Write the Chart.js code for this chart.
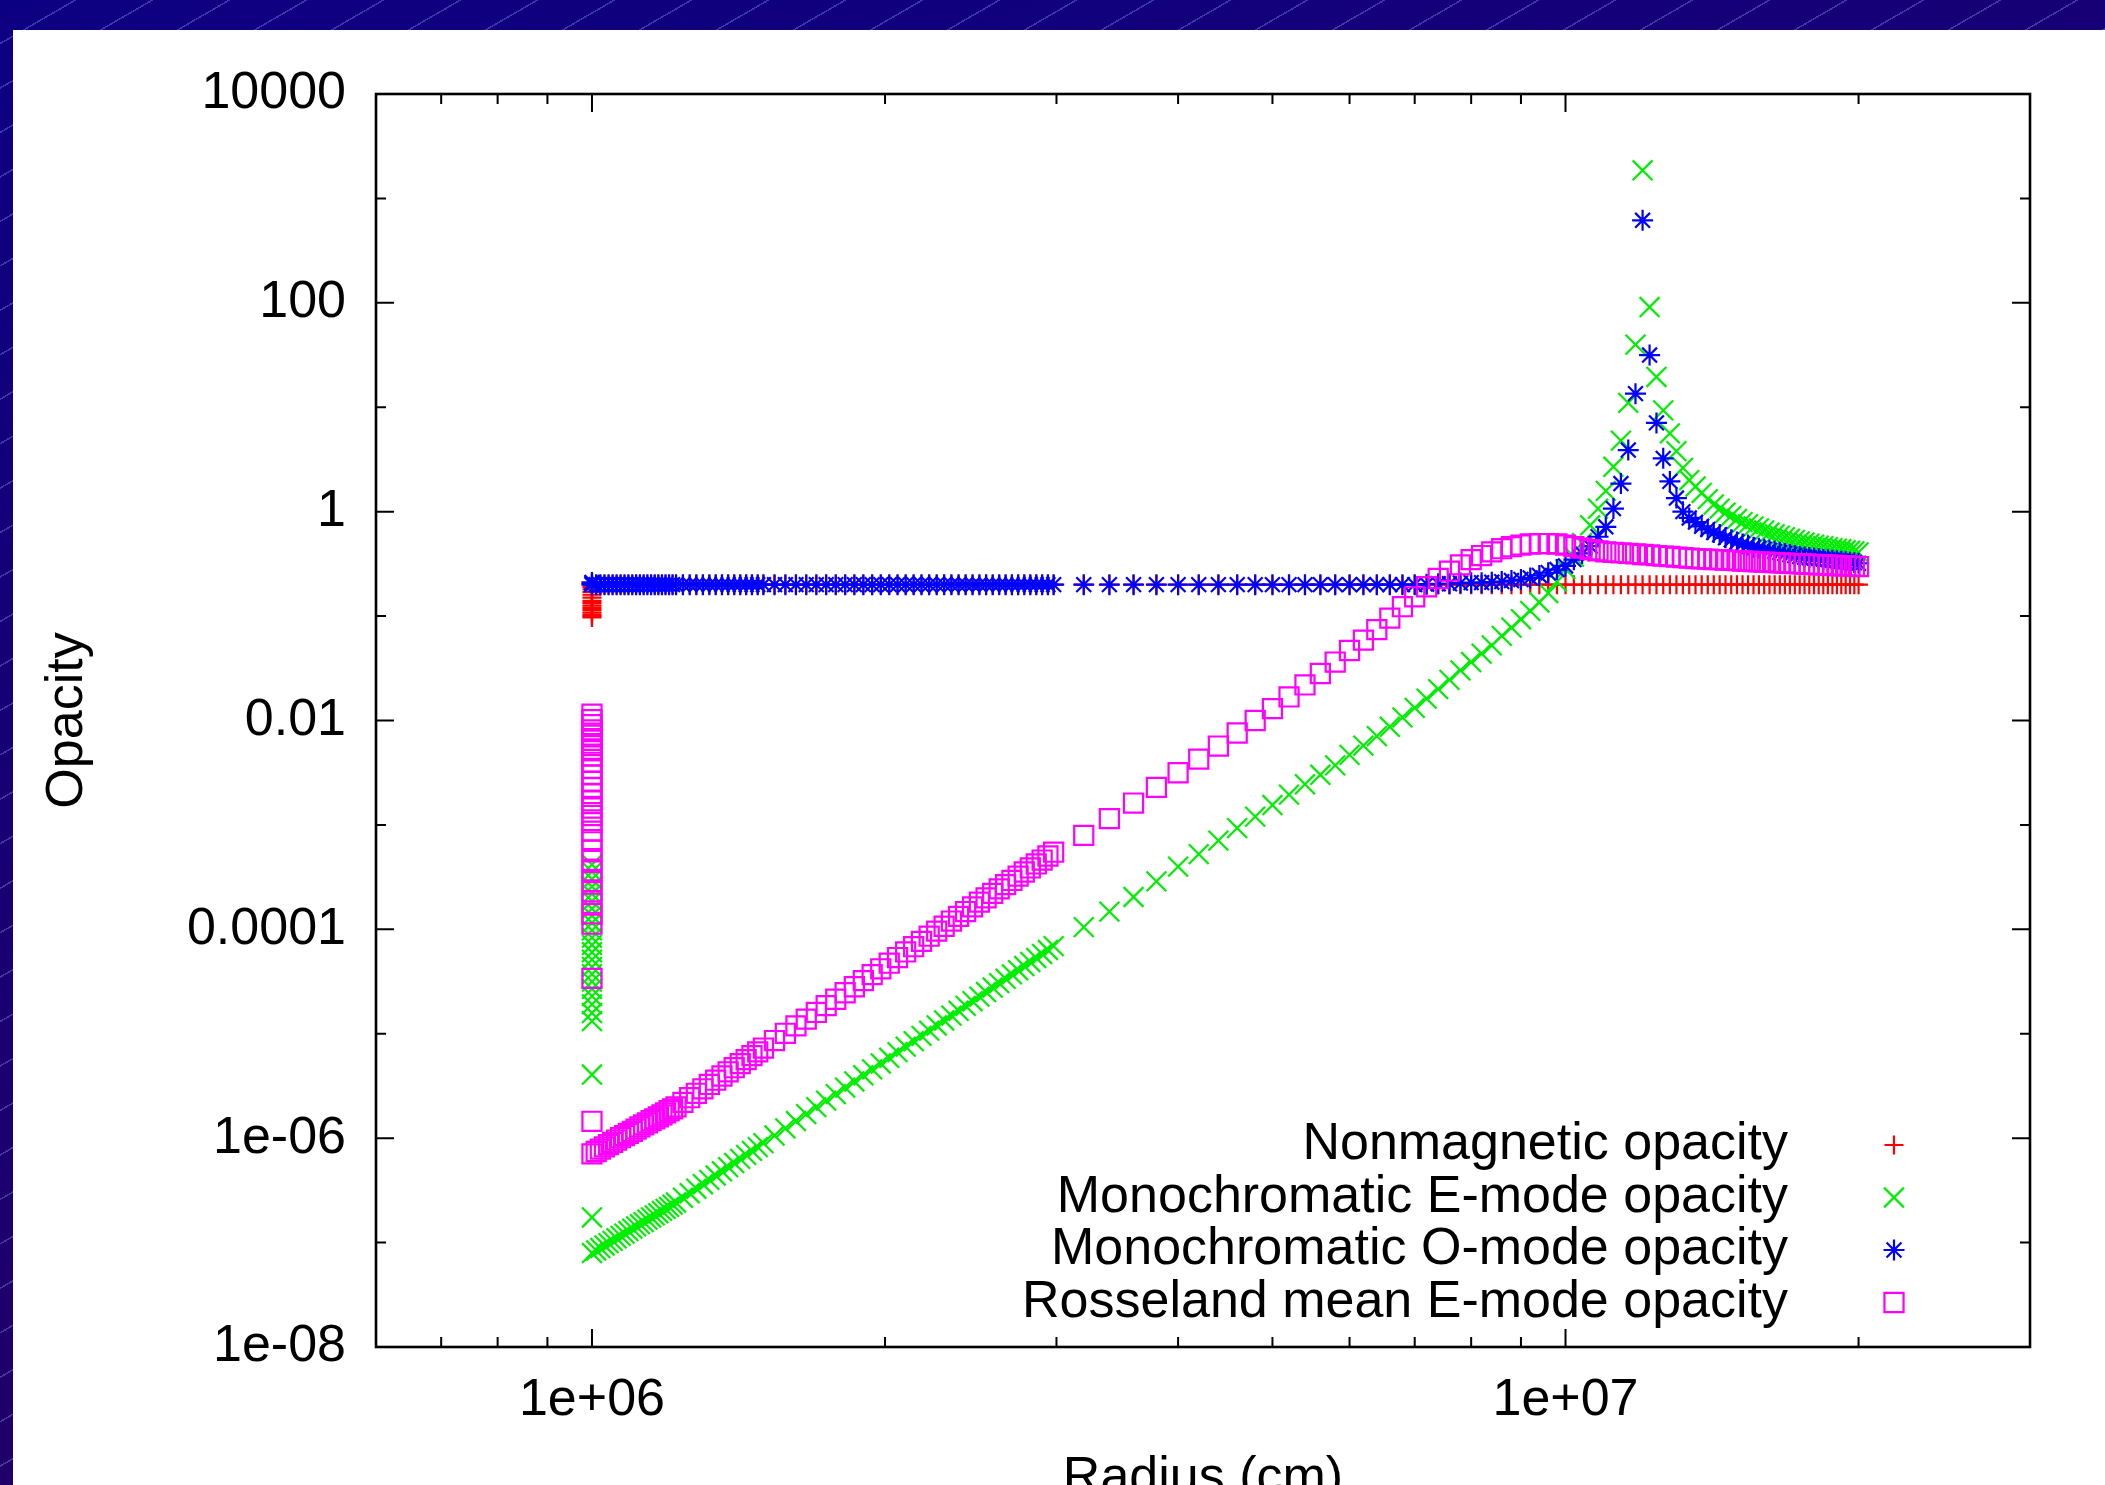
<!DOCTYPE html>
<html>
<head>
<meta charset="utf-8">
<title>Opacity vs radius</title>
<script src="https://cdn.jsdelivr.net/npm/chart.js@4.4.1/dist/chart.umd.min.js"></script>
<style>
    html, body { margin: 0; padding: 0; width: 2105px; height: 1485px; overflow: hidden; }
    body {
        position: relative;
        background:
            repeating-linear-gradient(150deg, rgba(0,0,0,0) 0px, rgba(0,0,0,0) 37px, rgba(165,150,255,0.35) 37px, rgba(165,150,255,0.35) 38.5px),
            linear-gradient(160deg, #0c0082 0%, #1b0070 50%, #2a005c 100%);
    }
    #panel { position: absolute; left: 13px; top: 30px; width: 2092px; height: 1520px; background: #fff; }
</style>
</head>
<body>
<div id="panel"><canvas id="opacity-chart"></canvas></div>
<script>
(function () {
    'use strict';

    // Radius grid (cm) shared by the four opacity profiles
    var radius = [
        // fine grid next to the surface
        1.00e6, 1.01e6, 1.02e6, 1.03e6, 1.04e6, 1.05e6, 1.06e6, 1.07e6, 1.08e6, 1.09e6,
        1.10e6, 1.11e6, 1.12e6, 1.13e6, 1.14e6, 1.15e6, 1.16e6, 1.17e6, 1.18e6, 1.19e6,
        1.20e6, 1.21e6, 1.22e6,
        1.24e6, 1.26e6, 1.28e6, 1.30e6, 1.32e6, 1.34e6, 1.36e6, 1.38e6, 1.40e6, 1.42e6,
        1.44e6, 1.46e6, 1.48e6, 1.50e6,
        1.54e6, 1.58e6, 1.62e6, 1.66e6, 1.70e6, 1.74e6, 1.78e6, 1.82e6, 1.86e6, 1.90e6,
        1.94e6, 1.98e6, 2.02e6, 2.06e6, 2.10e6, 2.14e6, 2.18e6, 2.22e6, 2.26e6, 2.30e6,
        2.34e6, 2.38e6, 2.42e6, 2.46e6, 2.50e6, 2.54e6, 2.58e6, 2.62e6, 2.66e6, 2.70e6,
        2.74e6, 2.78e6, 2.82e6, 2.86e6, 2.90e6, 2.94e6, 2.98e6,
        // coarse grid further out
        3.2e6, 3.4e6, 3.6e6, 3.8e6, 4.0e6, 4.2e6, 4.4e6, 4.6e6, 4.8e6, 5.0e6,
        5.2e6, 5.4e6, 5.6e6, 5.8e6, 6.0e6, 6.2e6, 6.4e6, 6.6e6, 6.8e6, 7.0e6,
        7.2e6, 7.4e6, 7.6e6, 7.8e6, 8.0e6, 8.2e6, 8.4e6, 8.6e6, 8.8e6, 9.0e6,
        9.2e6, 9.4e6, 9.6e6, 9.8e6, 1.00e7, 1.02e7, 1.04e7, 1.06e7, 1.08e7, 1.10e7,
        1.12e7, 1.14e7, 1.16e7, 1.18e7, 1.20e7, 1.22e7, 1.24e7, 1.26e7, 1.28e7, 1.30e7,
        1.32e7, 1.34e7, 1.36e7, 1.38e7, 1.40e7, 1.42e7, 1.44e7, 1.46e7, 1.48e7, 1.50e7,
        1.52e7, 1.54e7, 1.56e7, 1.58e7, 1.60e7, 1.62e7, 1.64e7, 1.66e7, 1.68e7, 1.70e7,
        1.72e7, 1.74e7, 1.76e7, 1.78e7, 1.80e7, 1.82e7, 1.84e7, 1.86e7, 1.88e7, 1.90e7,
        1.92e7, 1.94e7, 1.96e7, 1.98e7, 2.00e7
    ];

    var nonmagnetic = [
        0.2, 0.2, 0.2, 0.2, 0.2, 0.2, 0.2, 0.2, 0.2, 0.2,
        0.2, 0.2, 0.2, 0.2, 0.2, 0.2, 0.2, 0.2, 0.2, 0.2,
        0.2, 0.2, 0.2,
        0.2, 0.2, 0.2, 0.2, 0.2, 0.2, 0.2, 0.2, 0.2, 0.2,
        0.2, 0.2, 0.2, 0.2,
        0.2, 0.2, 0.2, 0.2, 0.2, 0.2, 0.2, 0.2, 0.2, 0.2,
        0.2, 0.2, 0.2, 0.2, 0.2, 0.2, 0.2, 0.2, 0.2, 0.2,
        0.2, 0.2, 0.2, 0.2, 0.2, 0.2, 0.2, 0.2, 0.2, 0.2,
        0.2, 0.2, 0.2, 0.2, 0.2, 0.2, 0.2,
        0.2, 0.2, 0.2, 0.2, 0.2, 0.2, 0.2, 0.2, 0.2, 0.2,
        0.2, 0.2, 0.2, 0.2, 0.2, 0.2, 0.2, 0.2, 0.2, 0.2,
        0.2, 0.2, 0.2, 0.2, 0.2, 0.2, 0.2, 0.2, 0.2, 0.2,
        0.2, 0.2, 0.2, 0.2, 0.2, 0.2, 0.2, 0.2, 0.2, 0.2,
        0.2, 0.2, 0.2, 0.2, 0.2, 0.2, 0.2, 0.2, 0.2, 0.2,
        0.2, 0.2, 0.2, 0.2, 0.2, 0.2, 0.2, 0.2, 0.2, 0.2,
        0.2, 0.2, 0.2, 0.2, 0.2, 0.2, 0.2, 0.2, 0.2, 0.2,
        0.2, 0.2, 0.2, 0.2, 0.2, 0.2, 0.2, 0.2, 0.2, 0.2,
        0.2, 0.2, 0.2, 0.2, 0.2
    ];

    var eModeMono = [
        7.94e-8, 8.40e-8, 8.87e-8, 9.38e-8, 9.89e-8, 1.04e-7, 1.10e-7, 1.16e-7, 1.22e-7, 1.29e-7,
        1.36e-7, 1.43e-7, 1.50e-7, 1.57e-7, 1.66e-7, 1.74e-7, 1.82e-7, 1.91e-7, 2.01e-7, 2.10e-7,
        2.20e-7, 2.31e-7, 2.42e-7,
        2.69e-7, 2.97e-7, 3.28e-7, 3.62e-7, 3.99e-7, 4.39e-7, 4.82e-7, 5.28e-7, 5.78e-7, 6.33e-7,
        6.92e-7, 7.55e-7, 8.22e-7, 8.95e-7,
        1.06e-6, 1.24e-6, 1.46e-6, 1.70e-6, 1.98e-6, 2.29e-6, 2.64e-6, 3.05e-6, 3.49e-6, 4.00e-6,
        4.56e-6, 5.19e-6, 5.89e-6, 6.67e-6, 7.53e-6, 8.49e-6, 9.55e-6, 1.07e-5, 1.20e-5, 1.34e-5,
        1.49e-5, 1.66e-5, 1.85e-5, 2.05e-5, 2.27e-5, 2.51e-5, 2.77e-5, 3.05e-5, 3.36e-5, 3.70e-5,
        4.06e-5, 4.45e-5, 4.87e-5, 5.32e-5, 5.81e-5, 6.34e-5, 6.90e-5,
        1.05e-4, 1.48e-4, 2.04e-4, 2.88e-4, 3.98e-4, 5.25e-4, 7.08e-4, 9.33e-4, 1.20e-3, 1.55e-3,
        1.95e-3, 2.45e-3, 3.02e-3, 3.72e-3, 4.68e-3, 5.75e-3, 7.08e-3, 8.71e-3, 1.07e-2, 1.32e-2,
        1.62e-2, 2.00e-2, 2.45e-2, 3.02e-2, 3.63e-2, 4.37e-2, 5.25e-2, 6.46e-2, 7.76e-2, 9.33e-2,
        0.112, 0.135, 0.166, 0.214, 0.282, 0.372, 0.501, 0.741, 1.07, 1.58,
        2.69, 4.79, 11.0, 39.8, 1860, 91.2, 19.5, 9.33, 5.62, 3.80,
        2.63, 2.00, 1.74, 1.51, 1.32, 1.17, 1.07, 0.977, 0.912, 0.851,
        0.794, 0.759, 0.724, 0.692, 0.661, 0.631, 0.610, 0.589, 0.569, 0.550,
        0.537, 0.519, 0.507, 0.495, 0.484, 0.473, 0.468, 0.457, 0.447, 0.442,
        0.437, 0.427, 0.422, 0.417, 0.407
    ];

    var oModeMono = [
        0.2, 0.2, 0.2, 0.2, 0.2, 0.2, 0.2, 0.2, 0.2, 0.2,
        0.2, 0.2, 0.2, 0.2, 0.2, 0.2, 0.2, 0.2, 0.2, 0.2,
        0.2, 0.2, 0.2,
        0.2, 0.2, 0.2, 0.2, 0.2, 0.2, 0.2, 0.2, 0.2, 0.2,
        0.2, 0.2, 0.2, 0.2,
        0.2, 0.2, 0.2, 0.2, 0.2, 0.2, 0.2, 0.2, 0.2, 0.2,
        0.2, 0.2, 0.2, 0.2, 0.2, 0.2, 0.2, 0.2, 0.2, 0.2,
        0.2, 0.2, 0.2, 0.2, 0.2, 0.2, 0.2, 0.2, 0.2, 0.2,
        0.2, 0.2, 0.2, 0.2, 0.2, 0.2, 0.2,
        0.2, 0.2, 0.2, 0.2, 0.2, 0.2, 0.2, 0.2, 0.2, 0.2,
        0.2, 0.2, 0.2, 0.2, 0.2, 0.2, 0.2, 0.2, 0.2, 0.2,
        0.202, 0.204, 0.204, 0.207, 0.209, 0.209, 0.211, 0.214, 0.219, 0.224,
        0.232, 0.245, 0.260, 0.279, 0.302, 0.347, 0.398, 0.468, 0.575, 0.716,
        1.07, 1.86, 3.89, 13.5, 617, 31.6, 7.08, 3.24, 1.95, 1.35,
        1.00, 0.871, 0.794, 0.724, 0.676, 0.631, 0.603, 0.562, 0.537, 0.513,
        0.490, 0.479, 0.457, 0.447, 0.437, 0.427, 0.417, 0.407, 0.398, 0.389,
        0.380, 0.372, 0.367, 0.363, 0.359, 0.355, 0.351, 0.347, 0.343, 0.339,
        0.335, 0.331, 0.327, 0.324, 0.320
    ];

    var eModeRosseland = [
        7.08e-7, 7.45e-7, 7.85e-7, 8.26e-7, 8.69e-7, 9.12e-7, 9.59e-7, 1.01e-6, 1.06e-6, 1.11e-6,
        1.16e-6, 1.22e-6, 1.28e-6, 1.34e-6, 1.40e-6, 1.47e-6, 1.53e-6, 1.60e-6, 1.67e-6, 1.75e-6,
        1.83e-6, 1.91e-6, 1.99e-6,
        2.20e-6, 2.44e-6, 2.69e-6, 2.97e-6, 3.27e-6, 3.59e-6, 3.94e-6, 4.32e-6, 4.73e-6, 5.18e-6,
        5.65e-6, 6.17e-6, 6.71e-6, 7.30e-6,
        8.61e-6, 1.01e-5, 1.19e-5, 1.38e-5, 1.60e-5, 1.86e-5, 2.14e-5, 2.47e-5, 2.82e-5, 3.23e-5,
        3.68e-5, 4.19e-5, 4.74e-5, 5.37e-5, 6.07e-5, 6.82e-5, 7.67e-5, 8.59e-5, 9.62e-5, 1.07e-4,
        1.20e-4, 1.33e-4, 1.48e-4, 1.64e-4, 1.82e-4, 2.00e-4, 2.21e-4, 2.44e-4, 2.68e-4, 2.94e-4,
        3.23e-4, 3.54e-4, 3.87e-4, 4.23e-4, 4.61e-4, 5.04e-4, 5.48e-4,
        7.94e-4, 1.15e-3, 1.62e-3, 2.29e-3, 3.16e-3, 4.27e-3, 5.69e-3, 7.59e-3, 1.00e-2, 1.30e-2,
        1.68e-2, 2.19e-2, 2.82e-2, 3.63e-2, 4.68e-2, 5.89e-2, 7.41e-2, 9.55e-2, 0.123, 0.153,
        0.191, 0.229, 0.269, 0.309, 0.347, 0.380, 0.412, 0.442, 0.462, 0.479,
        0.490, 0.495, 0.495, 0.490, 0.479, 0.462, 0.447, 0.432, 0.422, 0.412,
        0.407, 0.403, 0.398, 0.394, 0.389, 0.385, 0.380, 0.376, 0.372, 0.367,
        0.363, 0.359, 0.355, 0.353, 0.351, 0.348, 0.347, 0.344, 0.342, 0.339,
        0.337, 0.335, 0.333, 0.331, 0.329, 0.327, 0.325, 0.324, 0.322, 0.320,
        0.318, 0.316, 0.315, 0.313, 0.312, 0.310, 0.309, 0.308, 0.306, 0.305,
        0.303, 0.302, 0.301, 0.299, 0.298
    ];

    // Values piled up at the inner boundary, all at r = 1e6 cm
    var innerRadius = 1e6;
    var innerNonmagnetic = [0.19, 0.18, 0.17, 0.16, 0.15, 0.14, 0.133, 0.126, 0.12, 0.114, 0.108, 0.103, 0.1, 0.097];
    var innerEModeMono = [
        4.17e-4, 3.55e-4, 3.02e-4, 2.57e-4, 2.19e-4, 1.86e-4, 1.58e-4, 1.35e-4, 1.15e-4, 9.77e-5,
        8.32e-5, 7.08e-5, 6.03e-5, 5.13e-5, 4.37e-5, 3.72e-5, 3.16e-5, 2.69e-5, 2.29e-5, 1.91e-5,
        1.58e-5, 1.32e-5, 4.07e-6, 1.74e-7
    ];
    var innerOModeMono = [0.21, 0.205];
    var innerEModeRosseland = [
        1.15e-2, 1.02e-2, 9.12e-3, 8.13e-3, 7.24e-3, 6.46e-3, 5.75e-3, 5.13e-3, 4.57e-3, 3.98e-3,
        3.47e-3, 3.02e-3, 2.63e-3, 2.29e-3, 2.00e-3, 1.70e-3, 1.45e-3, 1.23e-3, 1.05e-3, 8.71e-4,
        7.24e-4, 5.75e-4, 4.57e-4, 3.63e-4, 2.88e-4, 2.29e-4, 1.78e-4, 1.41e-4, 1.12e-4, 3.39e-5,
        1.45e-6
    ];

    var seriesLabels = [
        'Nonmagnetic opacity',
        'Monochromatic E-mode opacity',
        'Monochromatic O-mode opacity',
        'Rosseland mean E-mode opacity'
    ];

    // Axis ticks; labelled ticks are the long ones
    var xTicks = [7e5, 8e5, 9e5, 1e6, 2e6, 3e6, 4e6, 5e6, 6e6, 7e6, 8e6, 9e6, 1e7, 2e7];
    var xTickLabels = ['', '', '', '1e+06', '', '', '', '', '', '', '', '', '1e+07', ''];
    var yTicks = [1e-8, 1e-7, 1e-6, 1e-5, 1e-4, 1e-3, 1e-2, 1e-1, 1, 10, 100, 1000, 10000];
    var yTickLabels = ['1e-08', '', '1e-06', '', '0.0001', '', '0.01', '', '1', '', '100', '', '10000'];

    var FONT = "'Liberation Sans', Arial, Helvetica, sans-serif";
    var MARK_WIDTH = 2.2;

    function toPoints(inner, values) {
        var pts = inner.map(function (v) { return { x: innerRadius, y: v }; });
        values.forEach(function (v, i) { pts.push({ x: radius[i], y: v }); });
        return pts;
    }

    function labelFor(ticks, labels, value) {
        for (var i = 0; i < ticks.length; i++) {
            if (Math.abs(value / ticks[i] - 1) < 1e-9) return labels[i];
        }
        return '';
    }

    var styles = [
        { color: '#ff0000', pointStyle: 'cross', radius: 9.5, order: 4 },
        { color: '#00ee00', pointStyle: 'crossRot', radius: 14, order: 3 },
        { color: '#0000ff', pointStyle: 'star', radius: 10.5, order: 2 },
        { color: '#ff00ff', pointStyle: 'rect', radius: 13.5, order: 1 }
    ];
    var seriesData = [
        toPoints(innerNonmagnetic, nonmagnetic),
        toPoints(innerEModeMono, eModeMono),
        toPoints(innerOModeMono, oModeMono),
        toPoints(innerEModeRosseland, eModeRosseland)
    ];

    var datasets = seriesData.map(function (pts, i) {
        var s = styles[i];
        return {
            label: seriesLabels[i],
            data: pts,
            order: s.order,
            showLine: false,
            pointStyle: s.pointStyle,
            pointRadius: s.radius,
            pointHoverRadius: s.radius,
            pointBorderWidth: MARK_WIDTH,
            borderColor: s.color,
            pointBorderColor: s.color,
            backgroundColor: 'rgba(0,0,0,0)',
            pointBackgroundColor: 'rgba(0,0,0,0)'
        };
    });

    // gnuplot-like border with inward ticks on all four sides
    var framePlugin = {
        id: 'gnuplotFrame',
        beforeDatasetsDraw: function (chart) {
            var ctx = chart.ctx, a = chart.chartArea;
            var xs = chart.scales.x, ys = chart.scales.y;
            ctx.save();
            ctx.strokeStyle = '#000';
            ctx.lineWidth = 2;
            ctx.beginPath();
            xTicks.forEach(function (v, i) {
                var px = xs.getPixelForValue(v);
                var len = xTickLabels[i] ? 18 : 10;
                ctx.moveTo(px, a.bottom); ctx.lineTo(px, a.bottom - len);
                ctx.moveTo(px, a.top); ctx.lineTo(px, a.top + len);
            });
            yTicks.forEach(function (v, i) {
                var py = ys.getPixelForValue(v);
                var len = yTickLabels[i] ? 18 : 10;
                ctx.moveTo(a.left, py); ctx.lineTo(a.left + len, py);
                ctx.moveTo(a.right, py); ctx.lineTo(a.right - len, py);
            });
            ctx.stroke();
            ctx.lineWidth = 2.6;
            ctx.strokeRect(a.left, a.top, a.right - a.left, a.bottom - a.top);
            ctx.restore();
        }
    };

    // Key in the lower right, text right-aligned with the marker after it
    var keyPlugin = {
        id: 'gnuplotKey',
        afterDraw: function (chart) {
            var ctx = chart.ctx;
            var textRight = 1775, markX = 1881, top = 1115, step = 52.5;
            ctx.save();
            ctx.font = '52px ' + FONT;
            ctx.textAlign = 'right';
            ctx.textBaseline = 'middle';
            seriesLabels.forEach(function (label, i) {
                var y = top + i * step;
                var s = styles[i];
                ctx.fillStyle = '#000';
                ctx.fillText(label, textRight, y);
                ctx.strokeStyle = s.color;
                ctx.fillStyle = 'rgba(0,0,0,0)';
                ctx.lineWidth = MARK_WIDTH;
                Chart.helpers.drawPoint(ctx, { pointStyle: s.pointStyle, radius: s.radius, rotation: 0, borderWidth: MARK_WIDTH }, markX, y);
            });
            ctx.restore();
        }
    };

    function initChart() {
        var canvas = document.getElementById('opacity-chart');
        if (!canvas) return;

        new Chart(canvas, {
            type: 'scatter',
            data: { datasets: datasets },
            options: {
                responsive: true,
                maintainAspectRatio: false,
                animation: false,
                layout: { padding: { top: 64, right: 75, bottom: 0, left: 0 } },
                plugins: {
                    legend: { display: false },
                    tooltip: { enabled: false }
                },
                scales: {
                    x: {
                        type: 'logarithmic',
                        position: 'bottom',
                        min: 6e5,
                        max: 3e7,
                        bounds: 'data',
                        grid: { display: false, drawTicks: false },
                        border: { display: false },
                        afterBuildTicks: function (scale) {
                            scale.ticks = xTicks.map(function (v) { return { value: v }; });
                        },
                        afterFit: function (scale) { scale.height = 203; },
                        ticks: {
                            autoSkip: false,
                            maxRotation: 0,
                            minRotation: 0,
                            padding: 22,
                            color: '#000',
                            font: { family: FONT, size: 52 },
                            callback: function (value) { return labelFor(xTicks, xTickLabels, value); }
                        },
                        title: {
                            display: true,
                            text: 'Radius (cm)',
                            color: '#000',
                            font: { family: FONT, size: 52 },
                            padding: { top: 0, bottom: 40 }
                        }
                    },
                    y: {
                        type: 'logarithmic',
                        position: 'left',
                        min: 1e-8,
                        max: 1e4,
                        bounds: 'data',
                        grid: { display: false, drawTicks: false },
                        border: { display: false },
                        afterBuildTicks: function (scale) {
                            scale.ticks = yTicks.map(function (v) { return { value: v }; });
                        },
                        afterFit: function (scale) { scale.width = 363; },
                        ticks: {
                            autoSkip: false,
                            padding: 30,
                            color: '#000',
                            font: { family: FONT, size: 52 },
                            callback: function (value) { return labelFor(yTicks, yTickLabels, value); }
                        },
                        title: {
                            display: true,
                            text: 'Opacity',
                            color: '#000',
                            font: { family: FONT, size: 52 },
                            padding: { top: 23, bottom: 0 }
                        }
                    }
                }
            },
            plugins: [framePlugin, keyPlugin]
        });
    }

    if (document.readyState === 'loading') {
        document.addEventListener('DOMContentLoaded', initChart);
    } else {
        initChart();
    }
})();
</script>
</body>
</html>
